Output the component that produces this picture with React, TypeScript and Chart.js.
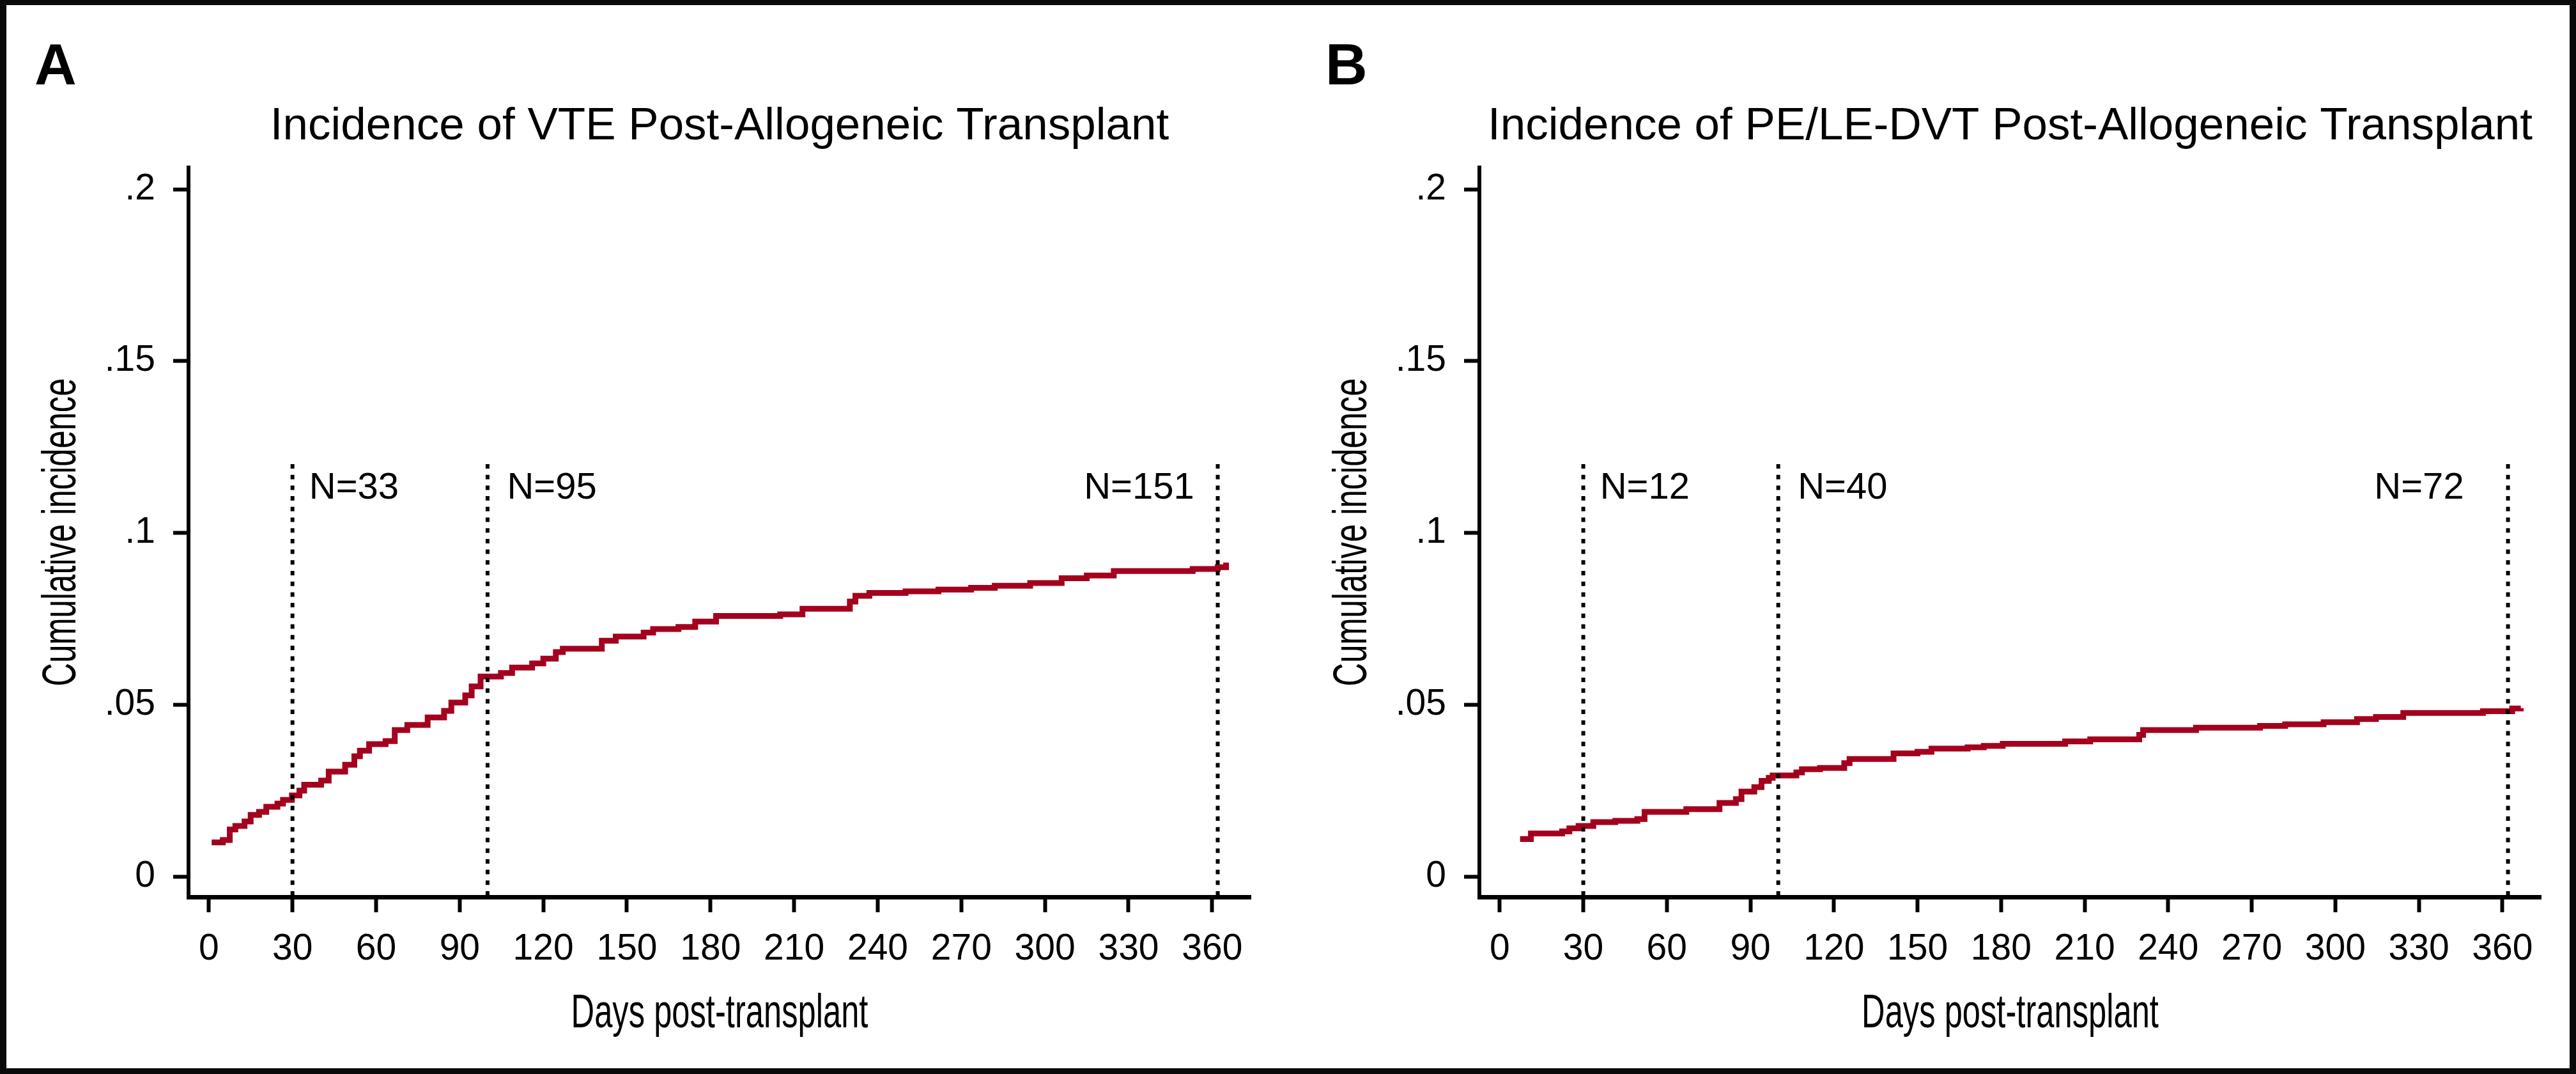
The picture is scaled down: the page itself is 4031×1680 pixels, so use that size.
import React, { useEffect, useRef } from "react";
import { Chart, registerables } from "chart.js";

Chart.register(...registerables);

// ---------- data ----------
const xTicks = [0, 30, 60, 90, 120, 150, 180, 210, 240, 270, 300, 330, 360];
const xTickLabels = ["0", "30", "60", "90", "120", "150", "180", "210", "240", "270", "300", "330", "360"];
const yTicks = [0, 0.05, 0.1, 0.15, 0.2];
const yTickLabels = ["0", ".05", ".1", ".15", ".2"];

const markerDays = [30, 100, 362];
const markerTop = 0.12;
const nLabelDays = [36, 107, 314];
const nLabelLevel = 0.11;

const vteDays = [
  1, 5, 7.5, 9.5, 12.8, 15, 18, 20.6, 24.6, 26.6, 29.8, 32.5, 34.2, 40.3, 43, 48.9, 52.2, 54.2, 57.5,
  63.4, 66.7, 71.2, 78.5, 84.4, 87, 92, 94.3, 97.5, 104.8, 108.8, 116, 120, 124.5, 127, 141, 146, 156,
  159.4, 168.5, 174.5, 182, 205, 213, 230, 232, 237, 250, 261.8, 273.5, 282, 294.7, 306, 315, 324.7,
  353, 362, 365, 366,
];
const vteIncidence = [
  0.0099, 0.0106, 0.0137, 0.0147, 0.016, 0.0179, 0.0188, 0.0203, 0.0212, 0.0223, 0.0236, 0.025, 0.0267,
  0.0279, 0.0305, 0.0325, 0.035, 0.0366, 0.0385, 0.0394, 0.0426, 0.0441, 0.0463, 0.0482, 0.0506, 0.0527,
  0.0553, 0.0582, 0.0592, 0.0608, 0.062, 0.0634, 0.0653, 0.0663, 0.0686, 0.0698, 0.071, 0.072, 0.0726,
  0.0742, 0.0758, 0.0763, 0.0779, 0.08, 0.0817, 0.0825, 0.083, 0.0835, 0.084, 0.0846, 0.0854, 0.0868,
  0.0876, 0.0889, 0.0895, 0.09, 0.0905, 0.0905,
];
const vteN = ["N=33", "N=95", "N=151"];

const peDays = [
  7.3, 11.2, 22.4, 25, 28.3, 33.6, 41.5, 49.4, 52, 67, 78.9, 84.8, 86.8, 91.4, 94, 96.6, 98, 106.5,
  108.5, 115, 123.7, 125.6, 141.4, 150, 155, 168, 173.8, 180.6, 203, 212, 229.6, 231, 250, 273, 282,
  295.8, 307.8, 314.6, 324.4, 353, 363.5, 366.6,
];
const peIncidence = [
  0.0109, 0.0125, 0.0131, 0.014, 0.0147, 0.0158, 0.0162, 0.0167, 0.0188, 0.0196, 0.0214, 0.0225, 0.0247,
  0.026, 0.0278, 0.0287, 0.0294, 0.0303, 0.0312, 0.0316, 0.033, 0.0342, 0.0358, 0.0363, 0.0372, 0.0376,
  0.038, 0.0386, 0.0393, 0.0399, 0.0412, 0.0426, 0.0433, 0.0438, 0.0443, 0.0449, 0.0458, 0.0464, 0.0476,
  0.0481, 0.0489, 0.049,
];
const peN = ["N=12", "N=40", "N=72"];

const xMin = -7.3;
const xMax = 373.8;
const yMin = -0.00595;
const yMax = 0.20633;

// ---------- styling ----------
const FONT = "'Liberation Sans', Arial, Helvetica, sans-serif";
const CURVE_COLOR = "#a3001e";
const H = 1680;

type PanelCfg = {
  letter: string;
  title: string;
  days: number[];
  values: number[];
  nLabels: string[];
  left: number;
  width: number;
  padRight: number;
};

function makeTextPlugin(cfg: PanelCfg) {
  return {
    id: "panelText" + cfg.letter,
    afterDraw(chart: any) {
      const { ctx, chartArea, scales } = chart;
      const cx = (chartArea.left + chartArea.right) / 2;
      const cy = (chartArea.top + chartArea.bottom) / 2;
      ctx.save();
      ctx.fillStyle = "#000";
      ctx.textBaseline = "alphabetic";

      ctx.font = `bold 91px ${FONT}`;
      ctx.textAlign = "left";
      ctx.fillText(cfg.letter, 54, 132);

      ctx.font = `71px ${FONT}`;
      ctx.textAlign = "center";
      ctx.fillText(cfg.title, cx, 218);

      ctx.save();
      ctx.translate(cx, 1607);
      ctx.scale(0.685, 1);
      ctx.font = `74px ${FONT}`;
      ctx.textAlign = "center";
      ctx.fillText("Days post-transplant", 0, 0);
      ctx.restore();

      ctx.save();
      ctx.translate(118, cy);
      ctx.rotate(-Math.PI / 2);
      ctx.scale(0.685, 1);
      ctx.font = `74px ${FONT}`;
      ctx.textAlign = "center";
      ctx.fillText("Cumulative incidence", 0, 0);
      ctx.restore();

      ctx.font = `58px ${FONT}`;
      ctx.textAlign = "left";
      cfg.nLabels.forEach((t, i) => {
        ctx.fillText(t, scales.x.getPixelForValue(nLabelDays[i]), scales.y.getPixelForValue(nLabelLevel));
      });
      ctx.restore();
    },
  };
}

function Panel({ cfg }: { cfg: PanelCfg }) {
  const ref = useRef<HTMLCanvasElement>(null);
  useEffect(() => {
    const markerSets = markerDays.map((d) => ({
      data: [
        { x: d, y: markerTop },
        { x: d, y: yMin },
      ],
      borderColor: "#000",
      borderWidth: 6,
      borderDash: [7, 9.7],
      borderCapStyle: "butt",
      pointRadius: 0,
      fill: false,
      tension: 0,
    }));
    const curve = {
      data: cfg.days.map((d, i) => ({ x: d, y: cfg.values[i] })),
      borderColor: CURVE_COLOR,
      borderWidth: 9,
      borderCapStyle: "butt",
      borderJoinStyle: "miter",
      stepped: "before",
      pointRadius: 0,
      fill: false,
    };
    const chart = new Chart(ref.current as HTMLCanvasElement, {
      type: "line",
      data: { datasets: [...markerSets, curve] as any },
      options: {
        responsive: false,
        animation: false,
        devicePixelRatio: 1,
        events: [],
        layout: { padding: { top: 262, right: cfg.padRight, left: 0, bottom: 0 } },
        plugins: { legend: { display: false }, tooltip: { enabled: false }, title: { display: false } },
        scales: {
          x: {
            type: "linear",
            position: "bottom",
            min: xMin,
            max: xMax,
            afterBuildTicks: (s: any) => {
              s.ticks = xTicks.map((v) => ({ value: v }));
            },
            afterFit: (s: any) => {
              s.height = H - 1403;
            },
            ticks: {
              font: { family: FONT, size: 57 },
              color: "#000",
              padding: 24,
              maxRotation: 0,
              minRotation: 0,
              autoSkip: false,
              callback: (_v: any, i: number) => xTickLabels[i],
            },
            grid: { drawOnChartArea: false, drawTicks: true, tickLength: 24, tickWidth: 6, tickColor: "#000" },
            border: { display: true, color: "#000", width: 7 },
          },
          y: {
            type: "linear",
            position: "left",
            min: yMin,
            max: yMax,
            afterBuildTicks: (s: any) => {
              s.ticks = yTicks.map((v) => ({ value: v }));
            },
            afterFit: (s: any) => {
              s.width = 295;
            },
            ticks: {
              font: { family: FONT, size: 57 },
              color: "#000",
              padding: 28,
              autoSkip: false,
              callback: (_v: any, i: number) => yTickLabels[i],
            },
            grid: { drawOnChartArea: false, drawTicks: true, tickLength: 24, tickWidth: 6, tickColor: "#000" },
            border: { display: true, color: "#000", width: 6 },
          },
        },
      } as any,
      plugins: [makeTextPlugin(cfg)],
    });
    return () => chart.destroy();
  }, []);
  return (
    <canvas
      ref={ref}
      width={cfg.width}
      height={H}
      style={{ position: "absolute", left: cfg.left, top: 0, width: cfg.width, height: H, display: "block" }}
    />
  );
}

const panelA: PanelCfg = {
  letter: "A",
  title: "Incidence of VTE Post-Allogeneic Transplant",
  days: vteDays,
  values: vteIncidence,
  nLabels: vteN,
  left: 0,
  width: 2016,
  padRight: 2016 - 1957,
};
const panelB: PanelCfg = {
  letter: "B",
  title: "Incidence of PE/LE-DVT Post-Allogeneic Transplant",
  days: peDays,
  values: peIncidence,
  nLabels: peN,
  left: 2020,
  width: 2011,
  padRight: 2011 - 1956,
};

export default function App() {
  return (
    <div
      style={{
        position: "fixed",
        left: 0,
        top: 0,
        width: 4031,
        height: 1680,
        background: "#fff",
        overflow: "hidden",
      }}
    >
      <Panel cfg={panelA} />
      <Panel cfg={panelB} />
      <div
        style={{
          position: "absolute",
          left: 0,
          top: 0,
          width: 4031,
          height: 1680,
          boxSizing: "border-box",
          borderStyle: "solid",
          borderColor: "#0a0a0a",
          borderWidth: "8px 10px 9px 10px",
          pointerEvents: "none",
        }}
      />
    </div>
  );
}
